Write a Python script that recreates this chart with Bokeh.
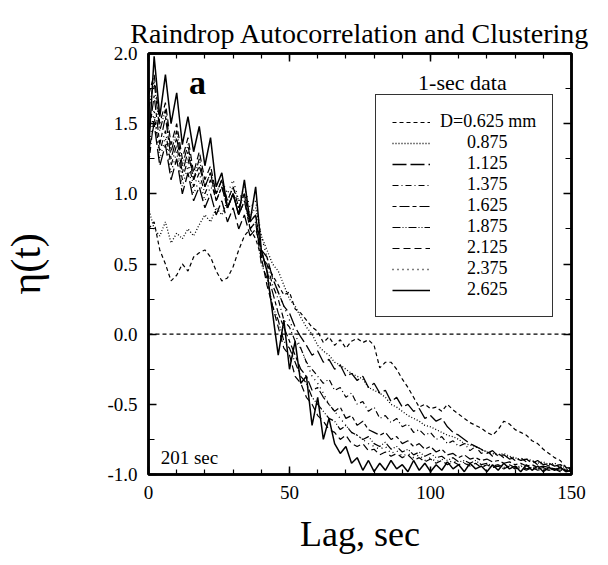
from bokeh.plotting import figure
from bokeh.models import (Range1d, LinearAxis, SingleIntervalTicker, PrintfTickFormatter,
                          Span, Label, Legend, LegendItem)
from bokeh.embed import file_html
from bokeh.resources import INLINE

FONT = "Liberation Serif"

LAG = list(range(0, 151, 2))

D0625 = [0.75, 0.8, 0.6, 0.5, 0.38, 0.42, 0.5, 0.45, 0.55, 0.58,
         0.6, 0.55, 0.45, 0.38, 0.4, 0.48, 0.6, 0.7, 0.75, 0.68,
         0.55, 0.5, 0.42, 0.35, 0.28, 0.3, 0.18, 0.15, 0.1, 0.05,
         0.02, -0.06, -0.02, -0.08, -0.04, -0.1, -0.05, -0.03, -0.06, -0.04,
         -0.08, -0.24, -0.2, -0.2, -0.25, -0.32, -0.38, -0.45, -0.52, -0.5,
         -0.53, -0.52, -0.55, -0.5, -0.54, -0.57, -0.6, -0.63, -0.65, -0.67,
         -0.7, -0.72, -0.68, -0.62, -0.64, -0.68, -0.7, -0.72, -0.76, -0.78,
         -0.82, -0.85, -0.88, -0.9, -0.95, -0.97]
D0875 = [0.9, 0.75, 0.7, 0.8, 0.65, 0.72, 0.68, 0.75, 0.7, 0.78,
         0.85, 0.8, 0.9, 0.85, 0.95, 1.05, 0.95, 1.0, 0.85, 0.9,
         0.7, 0.6, 0.5, 0.45, 0.35, 0.25, 0.2, 0.12, 0.05, 0.0,
         -0.08, -0.12, -0.15, -0.2, -0.22, -0.25, -0.28, -0.3, -0.32, -0.38,
         -0.4, -0.42, -0.45, -0.5, -0.52, -0.55, -0.58, -0.6, -0.62, -0.65,
         -0.66, -0.68, -0.7, -0.72, -0.73, -0.75, -0.78, -0.79, -0.8, -0.82,
         -0.84, -0.85, -0.86, -0.85, -0.87, -0.88, -0.9, -0.89, -0.9, -0.92,
         -0.91, -0.93, -0.92, -0.94, -0.95, -0.96]
D1125 = [1.3, 1.5, 1.2, 1.35, 1.1, 1.25, 1.0, 1.15, 0.95, 1.05,
         0.9, 1.0, 0.85, 0.95, 0.8, 0.9, 0.75, 0.85, 0.7, 0.75,
         0.6, 0.55, 0.4, 0.3, 0.2, 0.15, 0.05, -0.02, -0.08, -0.15,
         -0.12, -0.2, -0.18, -0.25, -0.22, -0.3, -0.28, -0.33, -0.3, -0.38,
         -0.35, -0.42, -0.4, -0.48, -0.45, -0.52, -0.5, -0.55, -0.53, -0.6,
         -0.58, -0.62, -0.6, -0.66, -0.7, -0.72, -0.75, -0.78, -0.8, -0.82,
         -0.85, -0.83, -0.87, -0.86, -0.89, -0.88, -0.9, -0.89, -0.92, -0.9,
         -0.93, -0.92, -0.94, -0.93, -0.95, -0.96]
D1375 = [1.2, 1.55, 1.3, 1.45, 1.2, 1.35, 1.1, 1.25, 1.05, 1.15,
         1.0, 1.1, 0.95, 1.05, 0.9, 1.0, 0.85, 0.95, 0.75, 0.8,
         0.55, 0.5, 0.35, 0.25, 0.1, 0.05, -0.05, -0.1, -0.2, -0.25,
         -0.3, -0.35, -0.32, -0.4, -0.38, -0.45, -0.42, -0.5, -0.48, -0.55,
         -0.52, -0.6, -0.58, -0.63, -0.6, -0.66, -0.64, -0.7, -0.68, -0.72,
         -0.7, -0.75, -0.73, -0.78, -0.76, -0.8, -0.78, -0.83, -0.8, -0.85,
         -0.83, -0.87, -0.85, -0.88, -0.87, -0.9, -0.88, -0.91, -0.9, -0.93,
         -0.92, -0.94, -0.93, -0.95, -0.94, -0.96]
D1625 = [1.4, 1.7, 1.35, 1.55, 1.25, 1.4, 1.15, 1.3, 1.1, 1.2,
         1.05, 1.15, 0.95, 1.05, 0.9, 1.0, 0.85, 0.95, 0.8, 0.85,
         0.6, 0.45, 0.3, 0.15, 0.05, -0.05, -0.15, -0.25, -0.3, -0.4,
         -0.38, -0.45, -0.5, -0.55, -0.52, -0.6, -0.58, -0.65, -0.62, -0.68,
         -0.7, -0.72, -0.7, -0.75, -0.73, -0.78, -0.76, -0.8, -0.78, -0.82,
         -0.8, -0.84, -0.82, -0.86, -0.85, -0.88, -0.86, -0.89, -0.88, -0.9,
         -0.89, -0.91, -0.9, -0.92, -0.91, -0.93, -0.92, -0.94, -0.93, -0.95,
         -0.94, -0.95, -0.96, -0.95, -0.97, -0.97]
D1875 = [1.6, 1.8, 1.45, 1.6, 1.3, 1.45, 1.2, 1.35, 1.1, 1.25,
         1.05, 1.15, 1.0, 1.1, 0.9, 1.0, 0.9, 1.0, 0.75, 0.8,
         0.5, 0.4, 0.2, 0.1, -0.05, -0.1, -0.2, -0.3, -0.35, -0.45,
         -0.5, -0.55, -0.6, -0.62, -0.68, -0.65, -0.7, -0.72, -0.75, -0.73,
         -0.78, -0.8, -0.77, -0.82, -0.8, -0.84, -0.82, -0.86, -0.84, -0.87,
         -0.85, -0.88, -0.87, -0.9, -0.88, -0.91, -0.9, -0.92, -0.9, -0.93,
         -0.92, -0.94, -0.93, -0.95, -0.93, -0.95, -0.94, -0.96, -0.95, -0.96,
         -0.95, -0.97, -0.96, -0.97, -0.96, -0.98]
D2125 = [1.7, 1.85, 1.5, 1.65, 1.35, 1.5, 1.25, 1.4, 1.15, 1.3,
         1.1, 1.2, 1.0, 1.1, 0.95, 1.05, 0.9, 1.0, 0.8, 0.85,
         0.55, 0.35, 0.2, 0.05, -0.1, -0.15, -0.3, -0.35, -0.45, -0.5,
         -0.58, -0.62, -0.68, -0.7, -0.75, -0.72, -0.78, -0.8, -0.78, -0.83,
         -0.82, -0.86, -0.84, -0.87, -0.85, -0.88, -0.86, -0.9, -0.88, -0.91,
         -0.89, -0.92, -0.9, -0.93, -0.91, -0.93, -0.92, -0.94, -0.92, -0.95,
         -0.93, -0.95, -0.94, -0.96, -0.94, -0.96, -0.95, -0.97, -0.95, -0.97,
         -0.96, -0.97, -0.96, -0.98, -0.97, -0.98]
D2375 = [1.3, 1.6, 1.25, 1.4, 1.15, 1.3, 1.05, 1.2, 1.0, 1.1,
         0.95, 1.05, 1.0, 1.1, 1.0, 1.1, 0.95, 1.05, 0.9, 0.95,
         0.7, 0.55, 0.4, 0.3, 0.2, 0.1, 0.0, -0.1, -0.2, -0.3,
         -0.35, -0.42, -0.5, -0.55, -0.6, -0.65, -0.7, -0.72, -0.75, -0.78,
         -0.8, -0.82, -0.8, -0.85, -0.83, -0.87, -0.85, -0.88, -0.86, -0.9,
         -0.88, -0.91, -0.89, -0.92, -0.9, -0.93, -0.91, -0.94, -0.92, -0.95,
         -0.93, -0.95, -0.94, -0.96, -0.94, -0.95, -0.93, -0.96, -0.94, -0.96,
         -0.95, -0.97, -0.95, -0.97, -0.96, -0.98]
D2625 = [1.3, 1.98, 1.55, 1.85, 1.5, 1.72, 1.35, 1.55, 1.3, 1.48,
         1.2, 1.4, 1.05, 1.15, 0.9, 1.0, 0.85, 1.1, 0.8, 1.05,
         0.6, 0.45, 0.15, -0.15, 0.1, -0.25, -0.05, -0.35, -0.3, -0.65,
         -0.45, -0.75, -0.6, -0.78, -0.85, -0.8, -0.92, -0.88, -0.97, -0.9,
         -0.98, -0.92, -0.97, -0.9, -0.96, -0.93, -0.98, -0.9, -0.97, -0.92,
         -0.98, -0.93, -0.97, -0.91, -0.96, -0.93, -0.98, -0.92, -0.96, -0.94,
         -0.98, -0.93, -0.97, -0.92, -0.96, -0.94, -0.98, -0.93, -0.97, -0.94,
         -0.98, -0.95, -0.97, -0.95, -0.98, -0.97]

LABELS = ["D=0.625 mm", "0.875", "1.125", "1.375", "1.625", "1.875", "2.125", "2.375", "2.625"]
VALUES = [D0625, D0875, D1125, D1375, D1625, D1875, D2125, D2375, D2625]
DASHES = ["4 3", "1 2", "14 4", "6 3 1 3", "4 3 10 3", "8 2 1 2 1 2", "7 4", "1 4", "solid"]
WIDTHS = [1.2, 1.3, 1.3, 1.2, 1.2, 1.2, 1.2, 1.3, 1.5]

p = figure(width=608, height=565, output_backend="svg", toolbar_location=None,
           x_range=Range1d(0, 150), y_range=Range1d(-1, 2),
           min_border_left=148, min_border_right=37, min_border_top=53, min_border_bottom=91,
           background_fill_color="white", border_fill_color="white")
p.outline_line_color = "black"
p.outline_line_width = 2.5
p.xgrid.visible = False
p.ygrid.visible = False

p.title.text = "Raindrop Autocorrelation and Clustering"
p.title.text_font = FONT
p.title.text_font_size = "28px"
p.title.text_font_style = "normal"
p.title.align = "center"
p.title.text_color = "black"


def style_axis(ax, major_in, minor_in, show_labels=True):
    ax.axis_line_color = "black"
    ax.axis_line_width = 2.5
    ax.major_tick_in = major_in
    ax.major_tick_out = 0
    ax.minor_tick_in = minor_in
    ax.minor_tick_out = 0
    ax.major_tick_line_color = "black"
    ax.minor_tick_line_color = "black"
    ax.major_tick_line_width = 1.5
    ax.minor_tick_line_width = 1.2
    ax.major_label_text_font = FONT
    if show_labels:
        ax.major_label_text_font_size = "19px"
        ax.major_label_text_color = "black"
    else:
        ax.major_label_text_font_size = "0px"
        ax.major_label_text_color = None
    ax.axis_label_text_font = FONT
    ax.axis_label_text_font_style = "normal"
    ax.axis_label_text_color = "black"


p.xaxis.ticker = SingleIntervalTicker(interval=50, num_minor_ticks=5)
p.yaxis.ticker = SingleIntervalTicker(interval=0.5, num_minor_ticks=2)
p.yaxis.formatter = PrintfTickFormatter(format="%.1f")
style_axis(p.xaxis[0], 8, 5)
style_axis(p.yaxis[0], 8, 6)
p.xaxis.major_label_standoff = 11
p.yaxis.major_label_standoff = 11
p.xaxis.axis_label = "Lag, sec"
p.xaxis.axis_label_text_font_size = "36px"
p.xaxis.axis_label_standoff = 12
p.yaxis.axis_label = "η(t)"
p.yaxis.axis_label_text_font_size = "42px"
p.yaxis.axis_label_standoff = 55

top = LinearAxis(ticker=SingleIntervalTicker(interval=50, num_minor_ticks=5))
right = LinearAxis(ticker=SingleIntervalTicker(interval=0.5, num_minor_ticks=2))
style_axis(top, 8, 5, show_labels=False)
style_axis(right, 8, 6, show_labels=False)
top.major_label_standoff = 0
right.major_label_standoff = 0
p.add_layout(top, "above")
p.add_layout(right, "right")

p.add_layout(Span(location=0, dimension="width", line_color="black",
                  line_width=1.2, line_dash="4 3"))

items = []
for lab, vals, dash, w in zip(LABELS, VALUES, DASHES, WIDTHS):
    r = p.line(LAG, vals, line_color="black", line_width=w, line_dash=dash)
    shown = lab if lab.startswith("D=") else "\u00a0" * 6 + lab
    items.append(LegendItem(label=shown, renderers=[r]))

leg = Legend(items=items, location=(227, 157), orientation="vertical",
             label_text_font=FONT, label_text_font_size="18px", label_text_color="black",
             glyph_width=38, glyph_height=18, label_height=18, label_standoff=10,
             spacing=0, padding=16, margin=0,
             border_line_color="black", border_line_width=1, border_line_alpha=0.8,
             background_fill_color="white", background_fill_alpha=1.0)
p.add_layout(leg, "center")

p.add_layout(Label(x=111.3, y=1.79, text="1-sec data", text_font=FONT, text_font_size="22px",
                   text_align="center", text_baseline="middle", text_color="black"))
p.add_layout(Label(x=17.4, y=1.79, text="a", text_font=FONT, text_font_size="34px",
                   text_font_style="bold", text_align="center", text_baseline="middle",
                   text_color="black"))
p.add_layout(Label(x=4.3, y=-0.88, text="201 sec", text_font=FONT, text_font_size="19px",
                   text_align="left", text_baseline="alphabetic", text_color="black"))

open("out.html", "w").write(file_html(p, INLINE))
